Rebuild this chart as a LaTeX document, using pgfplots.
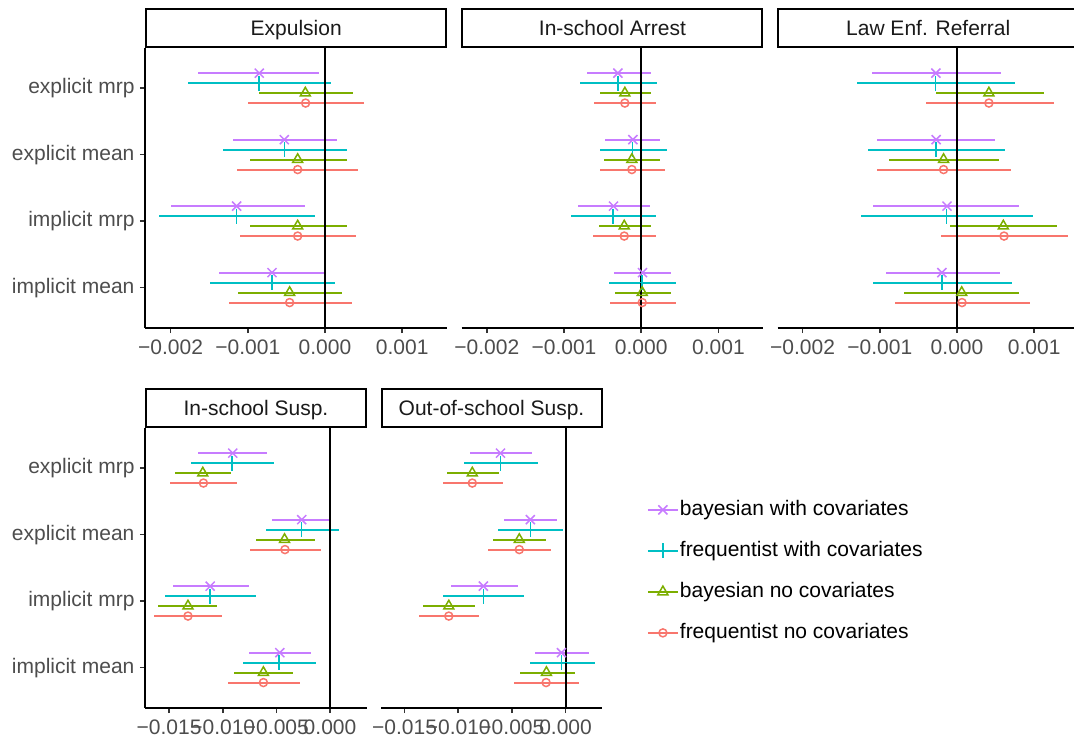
\documentclass[border=0pt]{standalone}
\usepackage{pgfplots}
\pgfplotsset{compat=1.18}
\usepackage{pgfplotstable}
\usepackage{fontspec}
\setmainfont{Liberation Sans}
\definecolor{cP}{HTML}{C77CFF}
\definecolor{cC}{HTML}{00BFC4}
\definecolor{cG}{HTML}{7CAE00}
\definecolor{cR}{HTML}{F8766D}
\definecolor{g30}{HTML}{4D4D4D}
\definecolor{g20}{HTML}{333333}
\definecolor{g10}{HTML}{1A1A1A}
\newcommand{\f}{\fontsize{21}{25}\selectfont}

% values in thousandths (x 0.001)
\pgfplotstableread{
c pl pm ph cl cm ch gl gm gh rl rm rh
4 -1.641 -0.851 -0.078 -1.771 -0.855 0.073 -0.855 -0.255 0.359 -0.994 -0.251 0.505
3 -1.188 -0.527 0.151 -1.322 -0.527 0.285 -0.972 -0.354 0.285 -1.136 -0.354 0.432
2 -1.996 -1.145 -0.259 -2.147 -1.145 -0.125 -0.972 -0.354 0.285 -1.102 -0.354 0.402
1 -1.369 -0.687 -0.009 -1.495 -0.687 0.130 -1.123 -0.458 0.220 -1.240 -0.458 0.346
}\tabExp
\pgfplotstableread{
c pl pm ph cl cm ch gl gm gh rl rm rh
4 -0.704 -0.302 0.125 -0.790 -0.302 0.207 -0.531 -0.212 0.125 -0.609 -0.212 0.194
3 -0.467 -0.108 0.238 -0.536 -0.112 0.328 -0.484 -0.121 0.238 -0.536 -0.121 0.307
2 -0.816 -0.359 0.112 -0.907 -0.363 0.190 -0.544 -0.220 0.125 -0.622 -0.220 0.190
1 -0.350 0.017 0.384 -0.423 0.009 0.454 -0.337 0.013 0.384 -0.406 0.013 0.445
}\tabArr
\pgfplotstableread{
c pl pm ph cl cm ch gl gm gh rl rm rh
4 -1.104 -0.274 0.565 -1.296 -0.278 0.752 -0.278 0.413 1.130 -0.396 0.413 1.252
3 -1.030 -0.270 0.491 -1.152 -0.270 0.622 -0.887 -0.174 0.539 -1.035 -0.174 0.696
2 -1.083 -0.130 0.804 -1.243 -0.135 0.987 -0.096 0.600 1.296 -0.213 0.609 1.439
1 -0.917 -0.196 0.561 -1.083 -0.196 0.709 -0.683 0.061 0.809 -0.809 0.065 0.948
}\tabRef
\pgfplotstableread{
c pl pm ph cl cm ch gl gm gh rl rm rh
4 -12.33 -9.07 -5.87 -12.99 -9.16 -5.24 -14.47 -11.86 -9.26 -14.87 -11.80 -8.63
3 -5.37 -2.64 0.06 -5.96 -2.64 0.82 -6.93 -4.24 -1.44 -7.47 -4.20 -0.82
2 -14.68 -11.17 -7.53 -15.37 -11.20 -6.90 -16.03 -13.24 -10.51 -16.38 -13.24 -10.04
1 -7.53 -4.68 -1.79 -8.13 -4.74 -1.29 -8.91 -6.21 -3.42 -9.54 -6.21 -2.82
}\tabISS
\pgfplotstableread{
c pl pm ph cl cm ch gl gm gh rl rm rh
4 -8.91 -6.06 -3.13 -9.47 -6.06 -2.53 -11.09 -8.69 -6.19 -11.44 -8.69 -5.81
3 -5.72 -3.28 -0.78 -6.25 -3.28 -0.25 -6.72 -4.31 -1.78 -7.19 -4.31 -1.31
2 -10.69 -7.66 -4.47 -11.41 -7.66 -3.88 -13.28 -10.88 -8.47 -13.66 -10.88 -8.03
1 -2.88 -0.38 2.19 -3.34 -0.38 2.72 -4.28 -1.78 0.84 -4.78 -1.81 1.22
}\tabOSS

\newcommand{\pser}[6]{%
 \addplot[only marks, color=#4, mark=#5, mark size=#6, line width=1.5pt,
   error bars/.cd, x dir=both, x explicit, error mark=none,
   error bar style={line width=2pt, solid}]
   table[x=#2m, y expr=\thisrow{c}+#3,
     x error plus expr=\thisrow{#2h}-\thisrow{#2m},
     x error minus expr=\thisrow{#2m}-\thisrow{#2l}] {#1};
}
\newcommand{\allser}[1]{%
 \pser{#1}{p}{0.225}{cP}{x}{6.4pt}
 \pser{#1}{c}{0.075}{cC}{+}{7.5pt}
 \pser{#1}{g}{-0.075}{cG}{triangle}{5.8pt}
 \pser{#1}{r}{-0.225}{cR}{o}{4pt}
 \addplot[black, line width=2pt, forget plot] coordinates {(0,0.4) (0,4.6)};
}

\pgfplotsset{
  panel/.style={
    scale only axis, height=279.3pt,
    ymin=0.4, ymax=4.6,
    axis x line*=bottom, axis y line*=left,
    axis line style={line width=2pt, black},
    tick align=outside, major tick length=5.5pt,
    tick style={line width=1.6pt, g20},
    xticklabel style={font=\f, text=g30, yshift=-3pt},
    yticklabel style={font=\f, text=g30, xshift=-2pt},
    ytick={1,2,3,4},
    yticklabels={implicit mean, implicit mrp, explicit mean, explicit mrp},
    every axis title shift=0pt,
    title style={at={(0.5,1)}, anchor=south, yshift=0pt, draw=black,
      line width=2pt, fill=white, minimum height=38.5pt, inner sep=0pt,
      text depth=0pt, text=g10, font=\f},
  },
  noy/.style={axis y line=none, ytick=\empty},
  top/.style={width=301.5pt, xmin=-2.325, xmax=1.58, xtick={-2,-1,0,1},
    xticklabels={−0.002,−0.001,0.000,0.001}, title style={minimum width=300pt}},
  bot/.style={width=221pt, xmin=-17.2, xmax=3.4, xtick={-15,-10,-5,0},
    xticklabels={−0.015,−0.010,−0.005,0.000}, title style={minimum width=220pt}},
}

\begin{document}
\begin{tikzpicture}
\clip (0pt,0pt) rectangle (1074pt,-738pt);
\begin{axis}[panel, top, at={(145.5pt,-327.5pt)}, anchor=south west, title={Expulsion}]
\allser{\tabExp}
\end{axis}
\begin{axis}[panel, top, noy, at={(461.7pt,-327.5pt)}, anchor=south west, title={In-school Arrest}]
\allser{\tabArr}
\end{axis}
\begin{axis}[panel, top, noy, at={(777.5pt,-327.5pt)}, anchor=south west, title={Law Enf. Referral}]
\allser{\tabRef}
\end{axis}
\begin{axis}[panel, bot, at={(145.5pt,-707.5pt)}, anchor=south west, title={In-school Susp.}]
\allser{\tabISS}
\end{axis}
\begin{axis}[panel, bot, noy, at={(381pt,-707.5pt)}, anchor=south west, title={Out-of-school Susp.},
  legend entries={bayesian with covariates, frequentist with covariates, bayesian no covariates, frequentist no covariates},
  legend image code/.code={%
    \draw[#1, line width=2pt] (0pt,0pt) -- (30pt,0pt);
    \draw[#1] plot coordinates {(15pt,0pt)};},
  legend style={draw=none, fill=none, at={(1.2023,0.745)}, anchor=north west,
    font=\f, legend cell align=left, inner sep=0pt, row sep=20.5pt,
    nodes={text height=14.5pt, text depth=4pt, inner sep=1pt},
    /tikz/every even column/.style={column sep=4pt}},
]
\allser{\tabOSS}
\end{axis}
\end{tikzpicture}
\end{document}
